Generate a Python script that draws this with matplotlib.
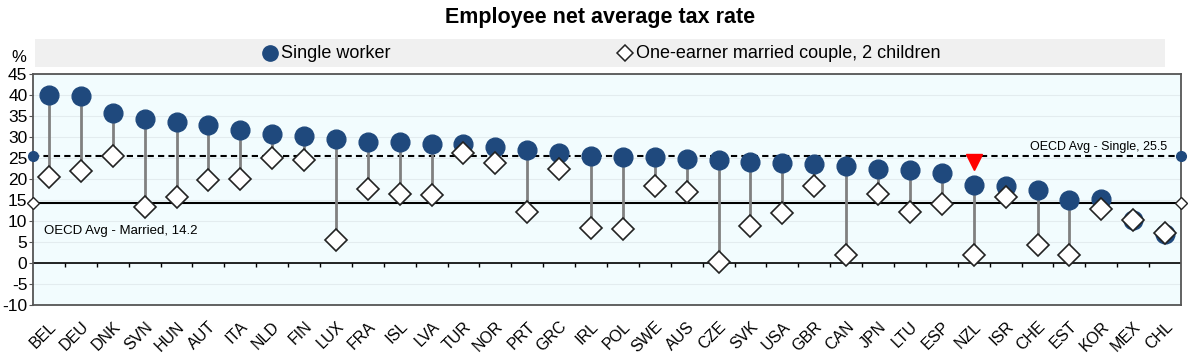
import numpy as np
import matplotlib
matplotlib.use("Agg")
import matplotlib.pyplot as plt
from matplotlib.lines import Line2D
from matplotlib.patches import Rectangle

plt.rcParams['font.family'] = ['Liberation Sans', 'DejaVu Sans']

countries = ["BEL", "DEU", "DNK", "SVN", "HUN", "AUT", "ITA", "NLD", "FIN", "LUX",
             "FRA", "ISL", "LVA", "TUR", "NOR", "PRT", "GRC", "IRL", "POL", "SWE",
             "AUS", "CZE", "SVK", "USA", "GBR", "CAN", "JPN", "LTU", "ESP", "NZL",
             "ISR", "CHE", "EST", "KOR", "MEX", "CHL"]
single = [39.9, 39.8, 35.7, 34.3, 33.6, 32.9, 31.6, 30.6, 30.2, 29.6,
          28.8, 28.7, 28.4, 28.3, 27.7, 26.8, 26.3, 25.5, 25.3, 25.2,
          24.8, 24.6, 24.0, 23.9, 23.6, 23.2, 22.5, 22.2, 21.4, 18.6,
          18.4, 17.4, 15.1, 15.2, 10.3, 7.0]
married = [20.4, 21.8, 25.4, 13.3, 15.8, 19.7, 20.1, 25.1, 24.5, 5.4,
           17.6, 16.4, 16.1, 26.1, 23.7, 12.2, 22.4, 8.4, 8.0, 18.4,
           17.0, 0.2, 8.9, 11.8, 18.4, 1.8, 16.4, 12.2, 14.1, 2.0,
           15.6, 4.4, 1.8, 12.8, 10.3, 7.1]
oecd_single = 25.5
oecd_married = 14.2
highlight = "NZL"
yticks = list(range(-10, 50, 5))

navy = "#1F497D"
bg = "#F2FCFE"

fig = plt.figure(figsize=(12, 3.55), dpi=100)
ax = fig.add_axes([33/1200, 1 - 305/355, (1181-33)/1200, (305-74)/355])
ax.set_facecolor(bg)

n = len(countries)
x = np.arange(n) + 0.5
ax.set_xlim(0, n)
ax.set_ylim(-10, 45)

for yv in yticks:
    ax.axhline(yv, color="#E3ECEF", lw=0.8, zorder=0)

ax.axhline(0, color="black", lw=1.2, zorder=1)
ax.vlines(np.arange(1, n), -0.9, 0, color="black", lw=1.0, zorder=1)

ax.axhline(oecd_single, color="black", lw=1.5, ls=(0, (3, 2)), zorder=2)
ax.axhline(oecd_married, color="black", lw=1.5, zorder=2)

ax.vlines(x, married, single, color="#808080", lw=2, zorder=3)
ax.plot(x, single, 'o', ms=13.5, color=navy, mec=navy, zorder=4, ls='none')
ax.plot(x, married, 'D', ms=11, mfc="white", mec="#222222", mew=1.2, zorder=5, ls='none')

# OECD average markers on the edges
ax.plot([0, n], [oecd_single, oecd_single], 'o', ms=7, color=navy, zorder=6, clip_on=False, ls='none')
ax.plot([0, n], [oecd_married, oecd_married], 'D', ms=6, mfc="white", mec="#222222", mew=1, zorder=6, clip_on=False, ls='none')

# highlight marker
hi = countries.index(highlight)
ax.plot([x[hi]], [oecd_single - 1.5], 'v', ms=11, color="#FF0000", zorder=6)

ax.text(n - 0.45, oecd_single + 0.8, "OECD Avg - Single, 25.5", ha="right", va="bottom", fontsize=9)
ax.text(0.35, 7.6, "OECD Avg - Married, 14.2", ha="left", va="center", fontsize=9.5)

ax.set_yticks(yticks)
ax.set_yticklabels([str(v) for v in yticks], fontsize=12.5)
ax.tick_params(axis='y', length=3, pad=1, color="#555555")
ax.set_xticks(x)
ax.set_xticklabels(countries, rotation=45, ha="right", rotation_mode="anchor", fontsize=11.5)
ax.tick_params(axis='x', length=0, pad=10)

for s in ax.spines.values():
    s.set_color("#555555")
    s.set_linewidth(1.3)

fig.text(19/1200, 1 - 58/355, "%", fontsize=12, ha="center", va="center")

fig.text(0.5, 1 - 18/355, "Employee net average tax rate", fontsize=15.5, fontweight="bold",
         ha="center", va="center")

# legend band
fig.add_artist(Rectangle((35/1200, 1 - 67/355), (1165-35)/1200, 28/355,
                         transform=fig.transFigure, facecolor="#F0F0F0", edgecolor="none", zorder=0))
ly = 1 - 53/355
fig.add_artist(Line2D([270/1200], [ly], transform=fig.transFigure, marker='o', ms=11,
                      color=navy, ls='none'))
fig.text(281/1200, ly, "Single worker", fontsize=13, ha="left", va="center")
fig.add_artist(Line2D([625/1200], [ly], transform=fig.transFigure, marker='D', ms=8,
                      mfc="white", mec="#222222", mew=1.1, ls='none'))
fig.text(636/1200, ly, "One-earner married couple, 2 children", fontsize=13, ha="left", va="center")

fig.savefig("out.png", dpi=100)
